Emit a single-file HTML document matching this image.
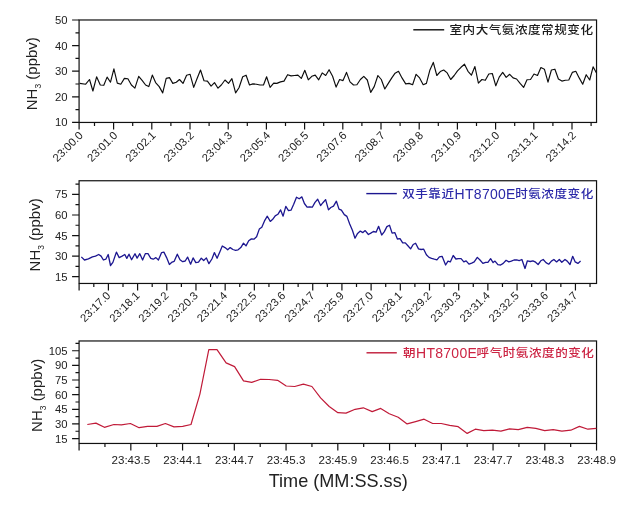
<!DOCTYPE html>
<html><head><meta charset="utf-8"><title>NH3</title>
<style>html,body{margin:0;padding:0;background:#fff}body{width:633px;height:508px;overflow:hidden}</style></head>
<body>
<svg width="633" height="508" viewBox="0 0 633 508" style="display:block;will-change:transform" font-family='"Liberation Sans", "Noto Sans CJK SC", sans-serif'>
<g stroke="#111" stroke-width="1.2" fill="none" stroke-linecap="butt">
<rect x="79.08" y="19.98" width="517.46" height="102.47"/>
<path d="M72.08 122.45H79.08M72.08 96.83H79.08M72.08 71.22H79.08M72.08 45.60H79.08M72.08 19.98H79.08M75.48 109.64H79.08M75.48 84.02H79.08M75.48 58.41H79.08M75.48 32.79H79.08M79.10 122.45v7M113.60 122.45v7M151.80 122.45v7M190.00 122.45v7M228.20 122.45v7M266.40 122.45v7M304.60 122.45v7M342.80 122.45v7M381.00 122.45v7M419.20 122.45v7M457.40 122.45v7M495.60 122.45v7M533.80 122.45v7M572.00 122.45v7M94.50 122.45v3.6M132.70 122.45v3.6M170.90 122.45v3.6M209.10 122.45v3.6M247.30 122.45v3.6M285.50 122.45v3.6M323.70 122.45v3.6M361.90 122.45v3.6M400.10 122.45v3.6M438.30 122.45v3.6M476.50 122.45v3.6M514.70 122.45v3.6M552.90 122.45v3.6M591.10 122.45v3.6"/>
</g>
<g font-size="11.3" fill="#222" text-anchor="end">
<text x="67.58" y="126.45">10</text>
<text x="67.58" y="100.83">20</text>
<text x="67.58" y="75.22">30</text>
<text x="67.58" y="49.60">40</text>
<text x="67.58" y="23.98">50</text>
</g>
<g font-size="11.2" fill="#222" text-anchor="end">
<text transform="translate(83.70 136.05) rotate(-45)">23:00.0</text>
<text transform="translate(118.20 136.05) rotate(-45)">23:01.0</text>
<text transform="translate(156.40 136.05) rotate(-45)">23:02.1</text>
<text transform="translate(194.60 136.05) rotate(-45)">23:03.2</text>
<text transform="translate(232.80 136.05) rotate(-45)">23:04.3</text>
<text transform="translate(271.00 136.05) rotate(-45)">23:05.4</text>
<text transform="translate(309.20 136.05) rotate(-45)">23:06.5</text>
<text transform="translate(347.40 136.05) rotate(-45)">23:07.6</text>
<text transform="translate(385.60 136.05) rotate(-45)">23:08.7</text>
<text transform="translate(423.80 136.05) rotate(-45)">23:09.8</text>
<text transform="translate(462.00 136.05) rotate(-45)">23:10.9</text>
<text transform="translate(500.20 136.05) rotate(-45)">23:12.0</text>
<text transform="translate(538.40 136.05) rotate(-45)">23:13.1</text>
<text transform="translate(576.60 136.05) rotate(-45)">23:14.2</text>
</g>
<text transform="translate(37.0 73.70) rotate(-90)" font-size="15" fill="#222" text-anchor="middle">NH<tspan font-size="8.5" dy="4.2">3</tspan><tspan dy="-4.2"> (ppbv)</tspan></text>
<path d="M413.3 29.8H444.2" stroke="#0c0c0c" stroke-width="1.4"/>
<text transform="translate(0 29.30) scale(1 0.88) translate(0 -29.30)" x="449.50" y="34.80" font-size="12.6" font-weight="500" letter-spacing="0.50" fill="#1a1a1a">室内大气氨浓度常规变化</text>
<path d="M79.7 83.4 L85.7 84.2 L89.5 79.5 L92.9 91.0 L96.6 76.8 L100.3 85.0 L103.8 85.3 L107.1 77.1 L110.5 82.2 L113.9 68.9 L117.3 83.1 L120.8 84.2 L124.4 78.4 L127.9 78.7 L131.4 85.0 L134.9 88.2 L138.7 76.3 L142.1 80.3 L145.6 85.0 L148.8 86.6 L152.3 75.1 L155.6 82.6 L159.2 86.6 L162.7 92.9 L166.2 78.4 L169.5 77.6 L172.8 83.4 L176.3 82.2 L179.5 79.5 L183.0 83.4 L186.6 75.2 L190.1 74.3 L193.7 87.4 L197.0 78.7 L200.5 70.0 L204.0 80.8 L207.4 81.1 L211.1 86.1 L214.5 82.6 L218.0 88.2 L221.3 85.0 L225.0 80.0 L228.5 83.4 L231.9 78.7 L235.6 92.9 L239.0 87.7 L242.7 76.8 L246.1 75.2 L249.5 85.0 L252.9 83.9 L256.4 84.2 L260.0 85.0 L263.5 85.0 L266.6 76.8 L270.1 87.4 L273.7 83.1 L276.8 83.4 L280.5 81.9 L284.0 81.1 L287.6 74.7 L291.1 75.9 L294.5 75.5 L297.9 75.1 L301.3 78.4 L304.8 70.3 L308.3 79.8 L311.8 76.3 L315.2 75.1 L318.7 79.8 L322.2 72.9 L325.7 75.5 L329.1 69.7 L332.6 76.3 L336.1 87.1 L339.6 79.5 L343.0 80.6 L346.5 72.4 L350.0 81.9 L353.5 85.0 L356.9 84.7 L360.4 79.5 L363.8 76.3 L367.3 80.0 L370.7 92.4 L374.2 86.6 L377.9 75.5 L381.3 79.5 L384.8 89.0 L388.3 83.4 L391.8 77.9 L395.1 73.2 L398.5 71.3 L402.0 77.9 L405.7 83.9 L409.1 83.4 L412.6 84.7 L416.1 74.3 L419.6 77.9 L423.2 84.7 L426.4 83.4 L429.8 70.3 L433.3 62.4 L436.8 75.5 L440.3 71.6 L443.7 70.0 L447.2 72.9 L450.7 79.5 L454.2 75.5 L457.5 70.8 L461.0 67.3 L464.5 64.2 L468.0 71.3 L471.4 75.2 L474.9 66.5 L478.4 83.1 L481.9 79.5 L485.3 80.3 L488.8 74.0 L492.3 73.5 L495.8 85.8 L499.2 77.1 L502.7 72.4 L506.2 77.4 L509.7 74.3 L513.1 77.9 L516.6 79.0 L520.1 83.4 L523.6 87.4 L527.0 79.8 L530.5 79.5 L534.0 74.0 L537.5 75.5 L540.9 67.6 L544.4 69.2 L548.0 82.2 L551.4 70.0 L554.9 69.2 L558.4 79.0 L561.9 81.1 L565.3 80.3 L568.8 80.0 L572.3 72.4 L575.8 71.3 L579.2 77.9 L582.7 84.2 L586.2 74.7 L589.7 80.0 L593.1 66.8 L596.6 73.2" stroke="#0c0c0c" stroke-width="1.15" fill="none" stroke-linejoin="round"/>
<g stroke="#111" stroke-width="1.2" fill="none" stroke-linecap="butt">
<rect x="79.08" y="180.75" width="517.46" height="102.71"/>
<path d="M72.08 276.61H79.08M72.08 256.07H79.08M72.08 235.53H79.08M72.08 214.99H79.08M72.08 194.44H79.08M75.48 266.34H79.08M75.48 245.80H79.08M75.48 225.26H79.08M75.48 204.72H79.08M75.48 184.17H79.08M79.10 283.46v7M108.40 283.46v7M137.59 283.46v7M166.78 283.46v7M195.97 283.46v7M225.16 283.46v7M254.35 283.46v7M283.54 283.46v7M312.73 283.46v7M341.92 283.46v7M371.11 283.46v7M400.30 283.46v7M429.49 283.46v7M458.68 283.46v7M487.87 283.46v7M517.06 283.46v7M546.25 283.46v7M575.44 283.46v7M93.81 283.46v3.6M123.00 283.46v3.6M152.19 283.46v3.6M181.38 283.46v3.6M210.57 283.46v3.6M239.76 283.46v3.6M268.94 283.46v3.6M298.13 283.46v3.6M327.32 283.46v3.6M356.51 283.46v3.6M385.71 283.46v3.6M414.89 283.46v3.6M444.09 283.46v3.6M473.27 283.46v3.6M502.47 283.46v3.6M531.65 283.46v3.6M560.85 283.46v3.6M590.03 283.46v3.6"/>
</g>
<g font-size="11.3" fill="#222" text-anchor="end">
<text x="67.58" y="280.61">15</text>
<text x="67.58" y="260.07">30</text>
<text x="67.58" y="239.53">45</text>
<text x="67.58" y="218.99">60</text>
<text x="67.58" y="198.44">75</text>
</g>
<g font-size="11.2" fill="#222" text-anchor="end">
<text transform="translate(111.10 296.26) rotate(-45)">23:17.0</text>
<text transform="translate(140.29 296.26) rotate(-45)">23:18.1</text>
<text transform="translate(169.48 296.26) rotate(-45)">23:19.2</text>
<text transform="translate(198.67 296.26) rotate(-45)">23:20.3</text>
<text transform="translate(227.86 296.26) rotate(-45)">23:21.4</text>
<text transform="translate(257.05 296.26) rotate(-45)">23:22.5</text>
<text transform="translate(286.24 296.26) rotate(-45)">23:23.6</text>
<text transform="translate(315.43 296.26) rotate(-45)">23:24.7</text>
<text transform="translate(344.62 296.26) rotate(-45)">23:25.9</text>
<text transform="translate(373.81 296.26) rotate(-45)">23:27.0</text>
<text transform="translate(403.00 296.26) rotate(-45)">23:28.1</text>
<text transform="translate(432.19 296.26) rotate(-45)">23:29.2</text>
<text transform="translate(461.38 296.26) rotate(-45)">23:30.3</text>
<text transform="translate(490.57 296.26) rotate(-45)">23:31.4</text>
<text transform="translate(519.76 296.26) rotate(-45)">23:32.5</text>
<text transform="translate(548.95 296.26) rotate(-45)">23:33.6</text>
<text transform="translate(578.14 296.26) rotate(-45)">23:34.7</text>
</g>
<text transform="translate(39.7 234.90) rotate(-90)" font-size="15" fill="#222" text-anchor="middle">NH<tspan font-size="8.5" dy="4.2">3</tspan><tspan dy="-4.2"> (ppbv)</tspan></text>
<path d="M366.3 193.6H396.8" stroke="#1c1690" stroke-width="1.4"/>
<text transform="translate(0 193.10) scale(1 0.88) translate(0 -193.10)" x="402.20" y="198.60" font-size="12.6" font-weight="500" letter-spacing="0.50" fill="#2a28a8">双手靠近</text>
<text x="454.60" y="198.60" font-size="14" letter-spacing="0.28" fill="#2a28a8">HT8700E</text>
<text transform="translate(0 193.10) scale(1 0.88) translate(0 -193.10)" x="515.20" y="198.60" font-size="12.6" font-weight="500" letter-spacing="0.50" fill="#2a28a8">时氨浓度变化</text>
<path d="M81.3 256.9 L84.5 260.0 L88.4 258.9 L92.4 256.9 L95.5 256.1 L98.7 254.5 L101.1 256.1 L103.4 260.0 L105.8 259.2 L108.2 254.5 L110.5 265.5 L112.9 262.4 L116.4 252.1 L119.2 257.6 L122.1 256.1 L124.8 254.5 L126.8 258.4 L129.0 254.2 L131.6 259.7 L135.0 253.7 L137.1 258.1 L139.8 253.7 L142.6 260.0 L145.3 253.7 L148.0 253.7 L150.8 258.4 L153.2 259.2 L155.9 257.6 L158.4 260.0 L161.6 252.6 L163.9 252.1 L166.6 257.6 L169.4 264.5 L172.1 262.1 L174.2 261.3 L177.3 254.2 L180.0 259.8 L182.7 261.7 L185.2 261.0 L187.6 257.1 L190.6 264.2 L193.1 257.9 L195.8 262.6 L198.5 262.1 L201.3 258.2 L203.7 260.5 L206.4 257.9 L208.9 263.7 L211.9 259.0 L214.4 252.6 L217.1 258.2 L219.8 251.9 L222.3 246.0 L225.0 247.6 L227.7 249.8 L230.2 247.6 L232.9 249.5 L235.6 250.3 L238.1 249.8 L240.8 247.6 L243.5 243.2 L246.0 245.9 L248.7 240.8 L251.4 238.9 L253.9 239.2 L256.6 236.8 L259.3 229.1 L261.8 227.2 L264.5 220.9 L267.3 216.2 L270.3 221.4 L272.7 219.3 L275.2 215.9 L277.9 214.3 L280.6 209.9 L283.1 216.2 L285.8 206.4 L288.5 210.6 L291.0 210.2 L293.7 204.3 L296.5 197.2 L299.2 198.8 L301.9 196.9 L304.4 203.5 L307.1 207.2 L309.8 207.0 L312.3 207.2 L315.0 202.4 L317.7 199.3 L320.6 205.6 L322.9 202.7 L325.6 199.6 L328.5 209.9 L330.8 207.5 L333.5 206.2 L336.4 201.2 L339.0 209.1 L341.4 210.2 L344.3 214.6 L346.9 216.4 L349.7 224.0 L352.4 230.3 L355.0 238.2 L357.6 233.4 L360.3 231.1 L362.9 232.6 L365.2 230.6 L368.4 234.5 L370.8 233.1 L373.4 231.5 L376.1 232.2 L378.6 226.3 L381.7 235.0 L384.2 231.9 L386.9 226.6 L389.5 225.2 L392.1 233.1 L394.8 232.6 L397.4 239.0 L400.0 238.6 L402.7 242.9 L405.3 242.9 L407.9 245.8 L410.6 248.9 L413.2 244.5 L415.6 243.2 L418.5 248.9 L421.1 249.5 L423.7 249.2 L426.4 254.8 L429.0 257.4 L431.6 258.4 L434.3 259.2 L436.9 259.8 L439.4 256.8 L442.1 256.3 L445.6 265.0 L448.0 261.1 L450.3 261.9 L453.2 255.5 L455.9 259.0 L458.4 258.7 L461.1 258.7 L463.8 261.9 L466.1 260.8 L469.0 264.2 L471.7 263.1 L474.2 261.9 L477.3 257.4 L480.0 260.0 L482.9 263.4 L485.6 262.3 L487.9 262.3 L490.6 258.7 L493.1 262.6 L495.0 261.1 L497.9 264.7 L500.6 265.0 L503.2 263.4 L506.1 260.3 L508.8 261.9 L511.3 261.1 L514.0 260.0 L516.7 259.8 L519.2 260.6 L521.9 259.5 L525.0 268.5 L527.4 260.8 L530.2 261.5 L532.9 260.8 L535.6 262.2 L538.1 264.5 L540.8 260.8 L543.2 259.5 L546.0 262.6 L548.7 264.2 L551.4 261.1 L553.9 259.5 L556.6 261.9 L559.3 259.5 L561.8 262.2 L565.0 259.5 L567.2 261.1 L570.0 264.5 L572.7 256.3 L575.2 261.9 L577.9 263.4 L580.6 261.1" stroke="#1c1690" stroke-width="1.3" fill="none" stroke-linejoin="round"/>
<g stroke="#111" stroke-width="1.2" fill="none" stroke-linecap="butt">
<rect x="79.08" y="340.97" width="517.46" height="102.49"/>
<path d="M72.08 438.58H79.08M72.08 423.94H79.08M72.08 409.30H79.08M72.08 394.66H79.08M72.08 380.01H79.08M72.08 365.37H79.08M72.08 350.73H79.08M75.48 431.26H79.08M75.48 416.62H79.08M75.48 401.98H79.08M75.48 387.33H79.08M75.48 372.69H79.08M75.48 358.05H79.08M75.48 343.41H79.08M79.08 443.46v7M130.83 443.46v7M182.57 443.46v7M234.32 443.46v7M286.06 443.46v7M337.81 443.46v7M389.56 443.46v7M441.30 443.46v7M493.05 443.46v7M544.79 443.46v7M596.54 443.46v7M104.95 443.46v3.6M156.70 443.46v3.6M208.44 443.46v3.6M260.19 443.46v3.6M311.94 443.46v3.6M363.68 443.46v3.6M415.43 443.46v3.6M467.18 443.46v3.6M518.92 443.46v3.6M570.67 443.46v3.6"/>
</g>
<g font-size="11.3" fill="#222" text-anchor="end">
<text x="67.58" y="442.58">15</text>
<text x="67.58" y="427.94">30</text>
<text x="67.58" y="413.30">45</text>
<text x="67.58" y="398.66">60</text>
<text x="67.58" y="384.01">75</text>
<text x="67.58" y="369.37">90</text>
<text x="67.58" y="354.73">105</text>
</g>
<g font-size="11.6" fill="#222" text-anchor="middle">
<text x="130.83" y="464.06">23:43.5</text>
<text x="182.57" y="464.06">23:44.1</text>
<text x="234.32" y="464.06">23:44.7</text>
<text x="286.06" y="464.06">23:45.3</text>
<text x="337.81" y="464.06">23:45.9</text>
<text x="389.56" y="464.06">23:46.5</text>
<text x="441.30" y="464.06">23:47.1</text>
<text x="493.05" y="464.06">23:47.7</text>
<text x="544.79" y="464.06">23:48.3</text>
<text x="596.54" y="464.06">23:48.9</text>
</g>
<text transform="translate(41.9 395.40) rotate(-90)" font-size="15" fill="#222" text-anchor="middle">NH<tspan font-size="8.5" dy="4.2">3</tspan><tspan dy="-4.2"> (ppbv)</tspan></text>
<path d="M366.5 352.8H396.8" stroke="#c01a38" stroke-width="1.4"/>
<text transform="translate(0 352.30) scale(1 0.88) translate(0 -352.30)" x="402.90" y="357.80" font-size="12.6" font-weight="500" letter-spacing="0.50" fill="#cc2443">朝</text>
<text x="416.00" y="357.80" font-size="14" letter-spacing="0.28" fill="#cc2443">HT8700E</text>
<text transform="translate(0 352.30) scale(1 0.88) translate(0 -352.30)" x="476.60" y="357.80" font-size="12.6" font-weight="500" letter-spacing="0.50" fill="#cc2443">呼气时氨浓度的变化</text>
<path d="M87.3 424.5 L95.9 423.1 L104.4 427.3 L113.9 424.5 L121.4 424.8 L130.4 423.5 L139.1 427.7 L147.6 426.4 L156.9 426.4 L165.4 423.5 L174.0 426.9 L182.7 426.4 L191.0 424.5 L199.9 394.1 L208.8 349.6 L217.0 349.6 L226.1 362.9 L234.6 366.6 L243.5 380.9 L251.7 382.4 L260.6 379.3 L269.1 379.5 L277.6 380.3 L286.2 386.0 L294.7 386.5 L303.4 384.1 L311.9 386.5 L320.6 397.9 L329.2 406.5 L337.9 412.7 L346.0 413.1 L355.1 409.3 L363.3 407.8 L372.2 411.6 L380.7 408.4 L389.3 413.7 L398.2 417.3 L407.1 423.9 L415.6 421.6 L424.1 419.2 L432.7 423.5 L441.2 423.5 L449.7 425.4 L458.2 426.7 L467.2 433.4 L475.3 429.2 L483.8 430.7 L492.4 430.2 L500.9 431.1 L509.6 428.8 L518.3 429.6 L527.2 427.3 L535.8 428.3 L544.7 430.7 L553.2 429.6 L561.9 431.1 L570.8 430.2 L579.4 426.4 L587.9 429.2 L596.4 428.3" stroke="#c01a38" stroke-width="1.2" fill="none" stroke-linejoin="round"/>
<text x="338.2" y="486.8" font-size="18.1" fill="#222" text-anchor="middle">Time (MM:SS.ss)</text>
</svg>
</body></html>
